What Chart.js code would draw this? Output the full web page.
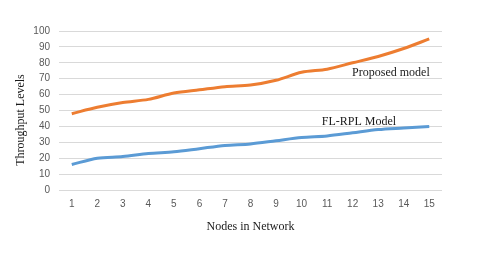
<!DOCTYPE html>
<html>
<head>
<meta charset="utf-8">
<script src="https://cdn.jsdelivr.net/npm/chart.js@4/dist/chart.umd.min.js"></script>
<style>
  html, body { margin: 0; padding: 0; background: #fff; }
  #wrap { width: 480px; height: 258px; }
</style>
</head>
<body>
<div id="wrap"><canvas id="chart" width="480" height="258"></canvas></div>
<script>
// ➤ Data
const nodes = ["1","2","3","4","5","6","7","8","9","10","11","12","13","14","15"];
const proposedModel = [48, 52, 55, 57, 61, 63, 65, 66, 69, 74, 76, 80, 84, 89, 95];
const flRplModel = [16, 20, 21, 23, 24, 26, 28, 29, 31, 33, 34, 36, 38, 39, 40];
const yTicks = [0, 10, 20, 30, 40, 50, 60, 70, 80, 90, 100];

const serif = "'Liberation Serif', 'DejaVu Serif', serif";
const sans = "'Liberation Sans', Arial, sans-serif";

// ➤ Labels next to the lines + y axis title
const seriesLabels = {
    id: "seriesLabels",
    afterDatasetsDraw(chart) {
        const { ctx, scales: { x, y } } = chart;
        ctx.save();
        ctx.font = "12px " + serif;
        ctx.fillStyle = "#1a1a1a";
        ctx.textAlign = "center";
        ctx.textBaseline = "middle";
        ctx.fillText("Proposed model", x.getPixelForValue(12.5), y.getPixelForValue(73.5));
        ctx.fillText("FL-RPL Model", x.getPixelForValue(11.25), y.getPixelForValue(43));

        // y axis title, sits a bit below the plot's middle like the original
        ctx.translate(21, y.getPixelForValue(44));
        ctx.rotate(-Math.PI / 2);
        ctx.fillText("Throughput Levels", 0, 0);
        ctx.restore();
    }
};

new Chart(document.getElementById("chart").getContext("2d"), {
    type: "line",
    data: {
        labels: nodes,
        datasets: [
            {
                label: "Proposed model",
                data: proposedModel,
                borderColor: "#ED7D31",
                borderWidth: 3,
                pointRadius: 0,
                tension: 0.3,
                fill: false
            },
            {
                label: "FL-RPL Model",
                data: flRplModel,
                borderColor: "#5B9BD5",
                borderWidth: 3,
                pointRadius: 0,
                tension: 0.3,
                fill: false
            }
        ]
    },
    options: {
        responsive: false,
        animation: false,
        layout: { padding: { left: 0, right: 38, top: 31, bottom: 0 } },
        plugins: {
            legend: { display: false },
            tooltip: { enabled: false }
        },
        scales: {
            x: {
                offset: true,
                grid: { display: false, drawTicks: false },
                border: { display: false },
                ticks: { color: "#595959", font: { family: sans, size: 10 }, padding: 8, maxRotation: 0 },
                title: {
                    display: true,
                    text: "Nodes in Network",
                    color: "#1a1a1a",
                    font: { family: serif, size: 12 },
                    padding: { top: 0, bottom: 24 }
                },
                afterFit: s => { s.height = 68; }
            },
            y: {
                min: 0,
                max: 100,
                afterBuildTicks: s => { s.ticks = yTicks.map(v => ({ value: v })); },
                grid: { color: "#d9d9d9", lineWidth: 1, drawTicks: false },
                border: { display: false },
                ticks: { color: "#595959", font: { family: sans, size: 10 }, padding: 9 },
                afterFit: s => { s.width = 59; }
            }
        }
    },
    plugins: [seriesLabels]
});
</script>
</body>
</html>
